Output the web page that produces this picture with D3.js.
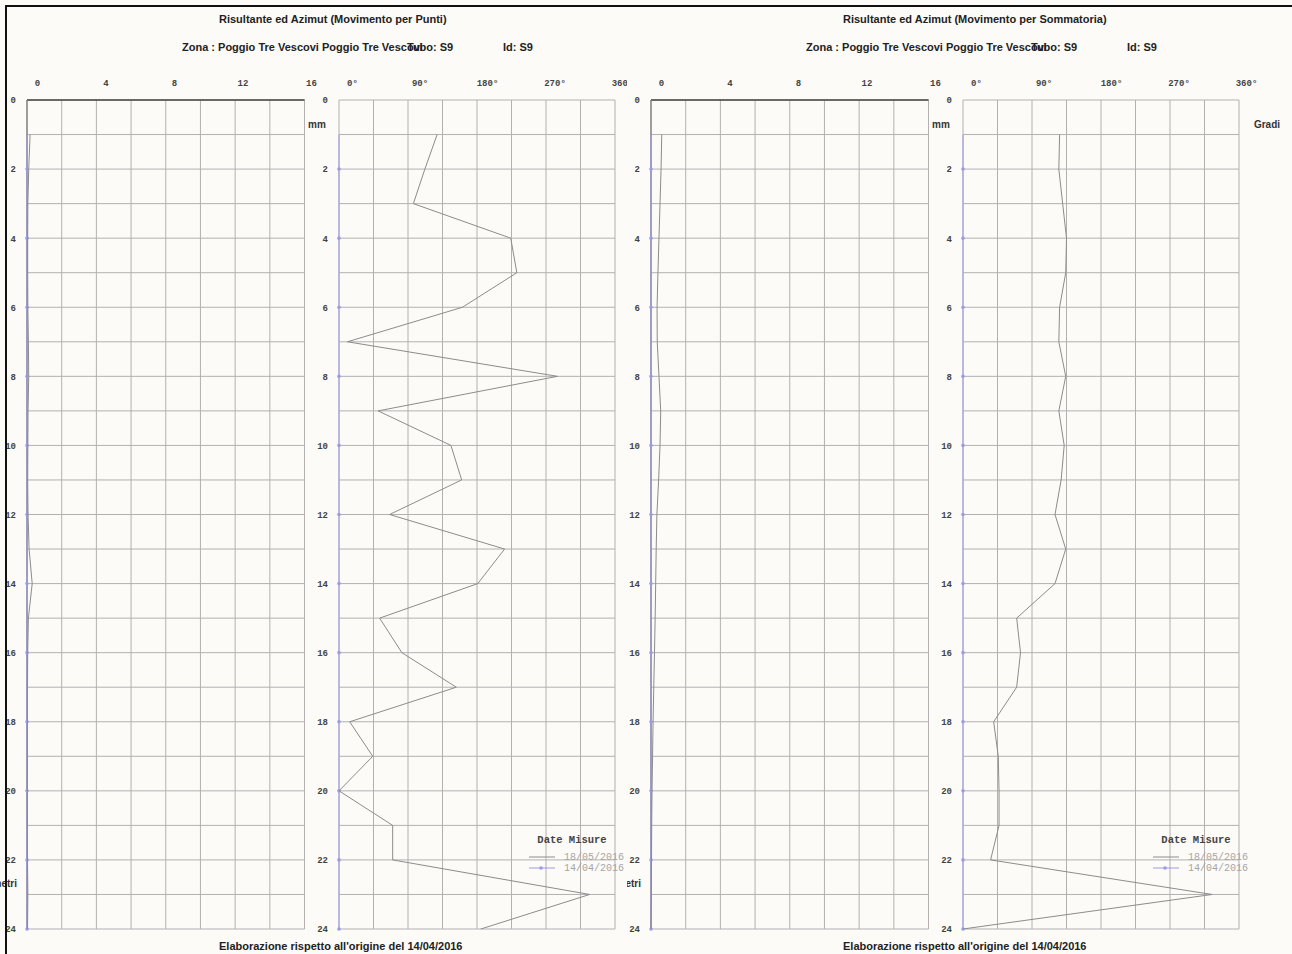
<!DOCTYPE html>
<html><head><meta charset="utf-8">
<script src="https://cdn.jsdelivr.net/npm/d3@7"></script>
<style>
html,body{margin:0;padding:0;background:#fdfbf8;}
svg{display:block;}
</style></head>
<body><svg id="chart" width="1292" height="954"></svg>
<script>
// ---------- DATA ----------
const depths = [1,2,3,4,5,6,7,8,9,10,11,12,13,14,15,16,17,18,19,20,21,22,23,24];
const dateLabels = ["18/05/2016", "14/04/2016"];
const resultTicks = [0, 4, 8, 12, 16];
const azimuthTicks = [0, 90, 180, 270, 360];
const depthTicks = [0,2,4,6,8,10,12,14,16,18,20,22,24];
// Movimento per Punti (18/05/2016)
const puntiResultant = [0.18,0.1,0.05,0.04,0.04,0.05,0.08,0.1,0.06,0.05,0.04,0.06,0.12,0.3,0.08,0.04,0.03,0.03,0.03,0.02,0.03,0.03,0.05,0.03];
const puntiAzimuth = [128,112,97,224,232,161,11,285,51,146,160,66,216,181,53,82,153,14,44,0,70,70,327,185];
// Movimento per Sommatoria (18/05/2016)
const sommaResultant = [0.62,0.58,0.52,0.46,0.4,0.35,0.36,0.46,0.56,0.52,0.44,0.34,0.3,0.27,0.24,0.2,0.16,0.12,0.09,0.06,0.04,0.03,0.02,0];
const sommaAzimuth = [126,125,130,135,134,126,125,134,125,132,128,120,134,120,70,75,70,40,46,47,47,36,325,0];
// Origin reading (14/04/2016)
const originValues = [0,0,0,0,0,0,0,0,0,0,0,0,0,0,0,0,0,0,0,0,0,0,0,0];

const panels = [
  {title:"Risultante ed Azimut (Movimento per Punti)", res:puntiResultant, az:puntiAzimuth},
  {title:"Risultante ed Azimut (Movimento per Sommatoria)", res:sommaResultant, az:sommaAzimuth}
];

// ---------- DRAW ----------
const svg = d3.select("#chart");
const BG = "#fdfbf8", GRID = "#b3b0b0", LINE = "#8c8c8c", REF = "#9c9ce6";
const mono = "'Liberation Mono', 'DejaVu Sans Mono', monospace";
const sans = "'Liberation Sans', Arial, sans-serif";

svg.append("rect").attr("width",1292).attr("height",954).attr("fill",BG);
const defs = svg.append("defs");
defs.append("clipPath").attr("id","clipR").append("rect").attr("x",3).attr("y",0).attr("width",700).attr("height",954);

const y = d3.scaleLinear().domain([0,24]).range([100,929]);
const xR = d3.scaleLinear().domain([0,16]).range([27,304.5]);
const xA = d3.scaleLinear().domain([0,360]).range([339,615]);
// label positions of the top scales (labels are slightly compressed vs. the grid)
const xRLab = d3.scaleLinear().domain([0,16]).range([37,311]);
const xALab = d3.scaleLinear().domain([0,360]).range([352,622]);

function drawPanel(g, p){
  // header
  g.append("text").attr("x",219).attr("y",23).attr("font-family",sans).attr("font-weight","bold")
    .attr("font-size",11).attr("fill","#222").text(p.title);
  g.append("text").attr("x",182).attr("y",51).attr("font-family",sans).attr("font-weight","bold")
    .attr("font-size",11).attr("fill","#222").text("Zona : Poggio Tre Vescovi Poggio Tre Vescovi");
  g.append("text").attr("x",407).attr("y",51).attr("font-family",sans).attr("font-weight","bold")
    .attr("font-size",11).attr("fill","#222").text("Tubo: S9");
  g.append("text").attr("x",503).attr("y",51).attr("font-family",sans).attr("font-weight","bold")
    .attr("font-size",11).attr("fill","#222").text("Id: S9");

  // grids
  [[xR, d3.range(0,17,2)], [xA, d3.range(0,361,45)]].forEach(([xs, vals])=>{
    const gg = g.append("g");
    gg.selectAll("line.v").data(vals).join("line")
      .attr("x1",d=>xs(d)).attr("x2",d=>xs(d)).attr("y1",y(0)).attr("y2",y(24))
      .attr("stroke",GRID).attr("stroke-width",1);
    gg.selectAll("line.h").data(d3.range(0,25)).join("line")
      .attr("x1",xs.range()[0]).attr("x2",xs.range()[1]).attr("y1",d=>y(d)).attr("y2",d=>y(d))
      .attr("stroke",GRID).attr("stroke-width",1);
  });
  g.append("line").attr("x1",xR.range()[0]).attr("x2",xR.range()[1]).attr("y1",y(0)).attr("y2",y(0))
    .attr("stroke","#444").attr("stroke-width",1.6);
  g.append("line").attr("x1",xR(0)).attr("x2",xR(0)).attr("y1",y(0)).attr("y2",y(24))
    .attr("stroke","#777").attr("stroke-width",1.2);

  // top tick labels
  const axR = d3.axisTop(xRLab).tickValues(resultTicks).tickSize(0).tickFormat(d=>String(d));
  const axA = d3.axisTop(xALab).tickValues(azimuthTicks).tickSize(0).tickFormat(d=>d+"°");
  [axR, axA].forEach(ax=>{
    const a = g.append("g").attr("transform","translate(0,89)").call(ax);
    a.select(".domain").remove();
    a.selectAll("text").attr("font-family",mono).attr("font-weight","bold").attr("font-size",9).attr("fill","#444").attr("dy",0);
  });
  // depth labels
  [16, 328].forEach(xx=>{
    const a = g.append("g").attr("transform",`translate(${xx},0)`)
      .call(d3.axisLeft(y).tickValues(depthTicks).tickSize(0).tickPadding(0).tickFormat(d=>String(d)));
    a.select(".domain").remove();
    a.selectAll("text").attr("font-family",mono).attr("font-weight","bold").attr("font-size",9).attr("fill","#444");
  });

  g.append("text").attr("x",317).attr("y",128).attr("text-anchor","middle").attr("font-family",sans)
    .attr("font-weight","bold").attr("font-size",10).attr("fill","#333").text("mm");
  g.append("text").attr("x",643).attr("y",128).attr("text-anchor","middle").attr("font-family",sans)
    .attr("font-weight","bold").attr("font-size",10).attr("fill","#333").text("Gradi");
  g.append("text").attr("x",17).attr("y",887).attr("text-anchor","end").attr("font-family",sans)
    .attr("font-weight","bold").attr("font-size",10).attr("fill","#333").text("metri");

  // series
  const refPts = depths.map((d,i)=>({d, v:originValues[i]}));
  [[xR, p.res], [xA, p.az]].forEach(([xs, vals])=>{
    g.append("path").datum(refPts)
      .attr("d", d3.line().x(e=>xs(e.v)).y(e=>y(e.d)))
      .attr("fill","none").attr("stroke",REF).attr("stroke-width",1);
    g.selectAll(null).data(refPts.filter(e=>e.d%2===0)).join("circle")
      .attr("cx",e=>xs(e.v)).attr("cy",e=>y(e.d)).attr("r",1.8).attr("fill",REF);
    g.append("path").datum(depths.map((d,i)=>({d, v:vals[i]})))
      .attr("d", d3.line().x(e=>xs(e.v)).y(e=>y(e.d)))
      .attr("fill","none").attr("stroke",LINE).attr("stroke-width",1);
  });

  // legend
  g.append("text").attr("x",572).attr("y",843).attr("text-anchor","middle").attr("font-family",mono)
    .attr("font-weight","bold").attr("font-size",10.5).attr("fill","#444").text("Date Misure");
  const leg = [{lab:dateLabels[0], c:LINE, m:false, yy:857}, {lab:dateLabels[1], c:REF, m:true, yy:868}];
  leg.forEach(l=>{
    g.append("line").attr("x1",529).attr("x2",555).attr("y1",l.yy).attr("y2",l.yy).attr("stroke",l.c).attr("stroke-width",1);
    if(l.m) g.append("circle").attr("cx",541).attr("cy",l.yy).attr("r",1.8).attr("fill",l.c);
    g.append("text").attr("x",564).attr("y",l.yy+3).attr("font-family",mono).attr("font-size",10)
      .attr("fill","#a5a5a5").text(l.lab);
  });

  g.append("text").attr("x",219).attr("y",950).attr("font-family",sans).attr("font-weight","bold")
    .attr("font-size",11).attr("fill","#222").text("Elaborazione rispetto all'origine del 14/04/2016");
}

const gL = svg.append("g");
drawPanel(gL, panels[0]);
const gR = svg.append("g").attr("transform","translate(624,0)").attr("clip-path","url(#clipR)");
gR.append("rect").attr("x",3).attr("y",0).attr("width",700).attr("height",954).attr("fill",BG);
drawPanel(gR, panels[1]);

// page borders
svg.append("line").attr("x1",5).attr("x2",1292).attr("y1",6).attr("y2",6).attr("stroke","#111").attr("stroke-width",2);
svg.append("line").attr("x1",6).attr("x2",6).attr("y1",6).attr("y2",954).attr("stroke","#111").attr("stroke-width",2);
</script></body></html>
